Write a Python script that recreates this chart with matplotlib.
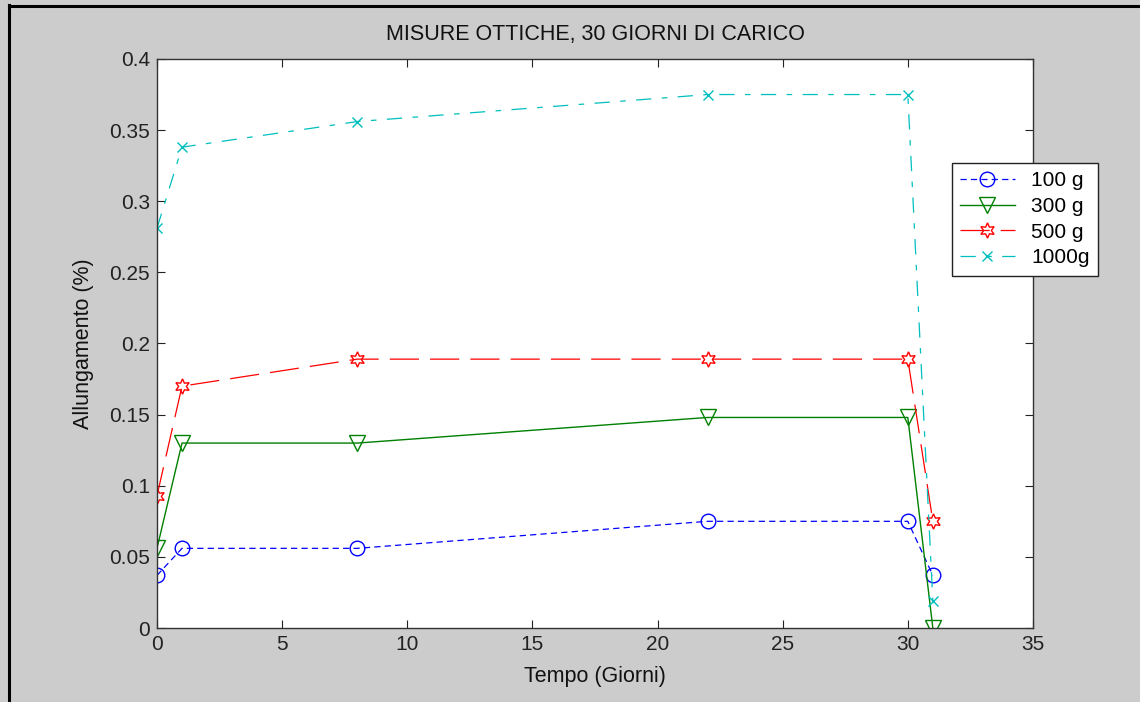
import matplotlib.pyplot as plt
from matplotlib.lines import Line2D

plt.rcParams['font.family'] = ['Liberation Sans Narrow', 'Liberation Sans', 'DejaVu Sans']
plt.rcParams['lines.scale_dashes'] = False

giorni = [0, 1, 8, 22, 30, 31]
g100 = [0.037, 0.056, 0.056, 0.075, 0.075, 0.037]
g300 = [0.056, 0.130, 0.130, 0.148, 0.148, 0.0]
g500 = [0.093, 0.170, 0.189, 0.189, 0.189, 0.075]
g1000 = [0.281, 0.338, 0.356, 0.375, 0.375, 0.019]
etichette = ['100 g', '300 g', '500 g', '1000g']

fig = plt.figure(figsize=(11.4, 7.02), dpi=100, facecolor='#cccccc')
ax = fig.add_axes([0.1377, 0.1054, 0.7684, 0.8106])

ax.plot(giorni, g100, color='#0000ff', lw=0.9, dashes=(4.5, 3), marker='o',
        ms=10.5, mfc='none', mew=1.0, label=etichette[0])
ax.plot(giorni, g300, color='#008000', lw=1.0, ls='-', marker='v',
        ms=12, mfc='none', mew=1.0, label=etichette[1])
ax.plot(giorni, g500, color='#ff0000', lw=0.9, dashes=(21, 8), marker=(6, 1, 0),
        ms=11, mfc='none', mew=1.0, label=etichette[2])
ax.plot(giorni, g1000, color='#00bfbf', lw=0.9, dashes=(11, 7.5, 4, 7.5), marker='x',
        ms=7, mew=1.0, label=etichette[3])

ax.set_xlim(0, 35)
ax.set_ylim(0, 0.4)
ax.set_xticks(range(0, 36, 5))
ax.set_yticks([0, 0.05, 0.1, 0.15, 0.2, 0.25, 0.3, 0.35, 0.4])
ax.set_yticklabels(['0', '0.05', '0.1', '0.15', '0.2', '0.25', '0.3', '0.35', '0.4'])
ax.tick_params(direction='in', length=6, width=0.8, top=True, right=True,
               labelsize=15, pad=5, colors='#222222')
for sp in ax.spines.values():
    sp.set_linewidth(1.0)
    sp.set_color('#333333')

ax.set_title('MISURE OTTICHE, 30 GIORNI DI CARICO', fontsize=15.5, pad=14, color='#111111')
ax.set_xlabel('Tempo (Giorni)', fontsize=15.5, labelpad=9, color='#111111')
ax.set_ylabel('Allungamento (%)', fontsize=15.5, labelpad=11, color='#111111')

leg = ax.legend(loc='upper left', bbox_to_anchor=(952 / 1140, 1 - 163 / 702),
                bbox_transform=fig.transFigure, fontsize=15, fancybox=False,
                framealpha=1, edgecolor='#222222', handlelength=2.6,
                handletextpad=0.8, borderpad=0.4, labelspacing=0.32,
                borderaxespad=0)
leg.get_frame().set_linewidth(1.0)

fig.add_artist(Line2D([8.5 / 1140, 8.5 / 1140], [0, 1 - 5 / 702], color='black', lw=2.2))
fig.add_artist(Line2D([8.5 / 1140, 1], [1 - 6 / 702, 1 - 6 / 702], color='black', lw=2.2))

fig.savefig('out.png', dpi=100, facecolor=fig.get_facecolor())
